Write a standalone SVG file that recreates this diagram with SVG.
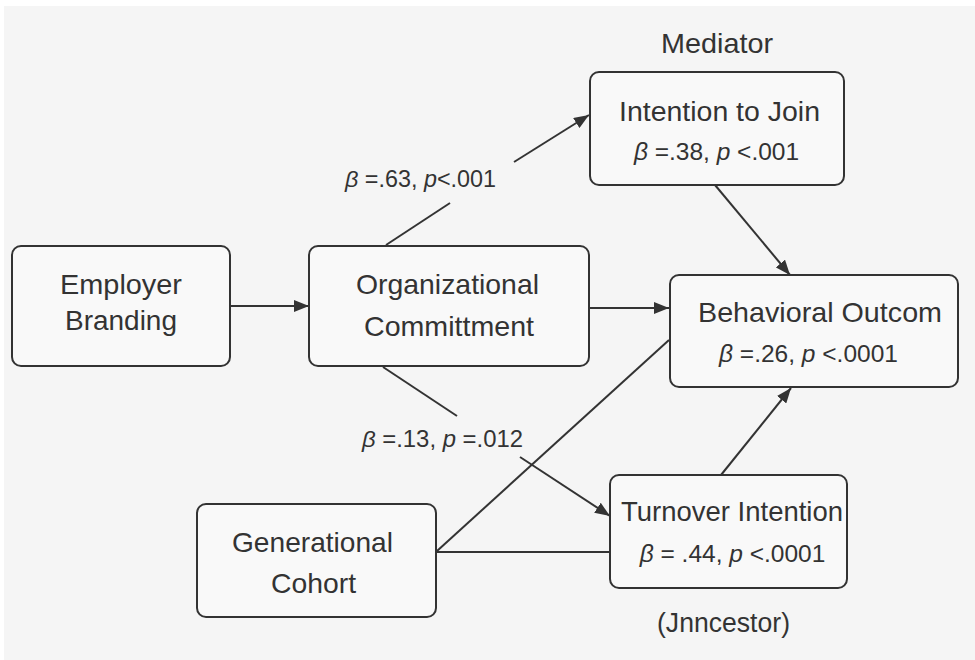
<svg xmlns="http://www.w3.org/2000/svg" width="975" height="660" viewBox="0 0 975 660">
  <defs>
    <marker id="arrow" markerUnits="userSpaceOnUse" markerWidth="15" markerHeight="12" refX="15" refY="6" orient="auto">
      <path d="M0,0 L15,6 L0,12 z" fill="#333"/>
    </marker>
    <style>
      .box { fill: #f9f9f9; stroke: #333; stroke-width: 2; }
      .lbl { font-family: "Liberation Sans", Arial, sans-serif; fill: #333; }
      .stat { font-family: "Liberation Sans", Arial, sans-serif; fill: #333; font-size: 24.5px; text-anchor: middle; }
      .edge { stroke: #333; stroke-width: 2; fill: none; }
      .it { font-style: italic; }
    </style>
  </defs>

  <!-- canvas -->
  <rect x="0" y="0" width="975" height="660" fill="#ffffff"/>
  <rect x="4" y="6" width="971" height="654" fill="#f5f5f5"/>

  <!-- connectors -->
  <g id="connectors">
    <line class="edge" x1="230" y1="306" x2="309" y2="306" marker-end="url(#arrow)"/>
    <line class="edge" x1="386" y1="245" x2="450" y2="203"/>
    <line class="edge" x1="514" y1="162" x2="589" y2="115" marker-end="url(#arrow)"/>
    <line class="edge" x1="590" y1="308" x2="669" y2="308" marker-end="url(#arrow)"/>
    <line class="edge" x1="383" y1="367" x2="457" y2="416"/>
    <line class="edge" x1="520" y1="457" x2="610" y2="516" marker-end="url(#arrow)"/>
    <line class="edge" x1="715" y1="185" x2="790" y2="275" marker-end="url(#arrow)"/>
    <line class="edge" x1="721" y1="475" x2="791" y2="388" marker-end="url(#arrow)"/>
    <line class="edge" x1="437" y1="551" x2="669" y2="340"/>
    <line class="edge" x1="437" y1="552" x2="610" y2="552"/>
    <text class="lbl" x="345" y="187" font-size="23" textLength="151" lengthAdjust="spacingAndGlyphs"><tspan class="it">β</tspan> =.63, <tspan class="it">p</tspan>&lt;.001</text>
    <text class="lbl" x="362" y="447" font-size="23" textLength="161" lengthAdjust="spacingAndGlyphs"><tspan class="it">β</tspan> =.13, <tspan class="it">p</tspan> =.012</text>
  </g>

  <!-- nodes -->
  <g id="employer-branding">
    <rect class="box" x="12" y="246" width="218" height="120" rx="9"/>
    <text class="lbl" x="60" y="294" font-size="27" textLength="122" lengthAdjust="spacingAndGlyphs">Employer</text>
    <text class="lbl" x="65" y="330" font-size="27" textLength="112" lengthAdjust="spacingAndGlyphs">Branding</text>
  </g>

  <g id="organizational-commitment">
    <rect class="box" x="309" y="246" width="280" height="120" rx="9"/>
    <text class="lbl" x="356" y="294" font-size="28" textLength="183" lengthAdjust="spacingAndGlyphs">Organizational</text>
    <text class="lbl" x="364" y="336" font-size="28" textLength="170" lengthAdjust="spacingAndGlyphs">Committment</text>
  </g>

  <g id="intention-to-join">
    <text class="lbl" x="661" y="53" font-size="28" textLength="112" lengthAdjust="spacingAndGlyphs">Mediator</text>
    <rect class="box" x="590" y="72" width="254" height="113" rx="9"/>
    <text class="lbl" x="619" y="121" font-size="27" textLength="201" lengthAdjust="spacingAndGlyphs">Intention to Join</text>
    <text class="stat" x="716.5" y="160"><tspan class="it">β</tspan> =.38, <tspan class="it">p</tspan> &lt;.001</text>
  </g>

  <g id="behavioral-outcome">
    <rect class="box" x="670" y="275" width="288" height="112" rx="9"/>
    <text class="lbl" x="698" y="322" font-size="28" textLength="244" lengthAdjust="spacingAndGlyphs">Behavioral Outcom</text>
    <text class="stat" x="808.5" y="362"><tspan class="it">β</tspan> =.26, <tspan class="it">p</tspan> &lt;.0001</text>
  </g>

  <g id="generational-cohort">
    <rect class="box" x="197" y="504" width="239" height="113" rx="9"/>
    <text class="lbl" x="232" y="552" font-size="28" textLength="161" lengthAdjust="spacingAndGlyphs">Generational</text>
    <text class="lbl" x="271" y="593" font-size="28" textLength="85" lengthAdjust="spacingAndGlyphs">Cohort</text>
  </g>

  <g id="turnover-intention">
    <rect class="box" x="610" y="475" width="237" height="113" rx="9"/>
    <text class="lbl" x="621" y="521" font-size="28" textLength="222" lengthAdjust="spacingAndGlyphs">Turnover Intention</text>
    <text class="stat" x="732.5" y="562"><tspan class="it">β</tspan> = .44, <tspan class="it">p</tspan> &lt;.0001</text>
    <text class="lbl" x="657" y="632" font-size="27" textLength="133" lengthAdjust="spacingAndGlyphs">(Jnncestor)</text>
  </g>
</svg>
